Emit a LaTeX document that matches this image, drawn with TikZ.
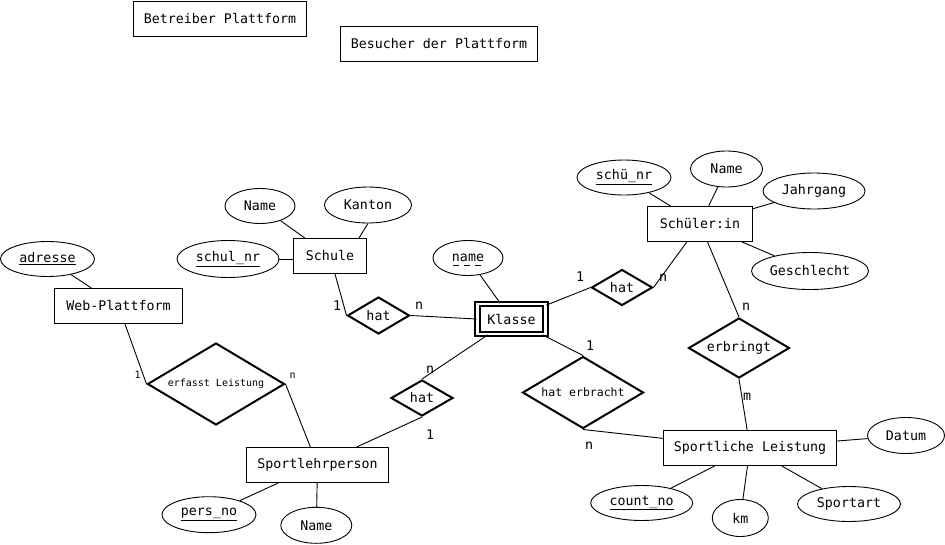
\documentclass[tikz,border=0pt]{standalone}
\usepackage{fontspec}
\setmainfont{DejaVu Sans Mono}
\usetikzlibrary{shapes.geometric}
\begin{document}
\begin{tikzpicture}[x=1pt,y=-1pt,
 every node/.style={font=\fontsize{13.3}{16}\selectfont},
 ent/.style={draw,line width=0.9pt,rectangle,inner sep=0pt,minimum height=35pt},
 attr/.style={draw,line width=0.9pt,ellipse,inner sep=0pt},
 rel/.style={draw,line width=2pt,diamond,aspect=2,inner sep=0pt},
 lbl/.style={inner sep=0pt},
 smalltxt/.style={font=\fontsize{10}{12}\selectfont},
 midtxt/.style={font=\fontsize{11.5}{14}\selectfont},
 conn/.style={line width=0.9pt}]
\path (0,0) rectangle (945,544);

% entities
\node[ent,minimum width=173pt] (betr) at (220,18.5) {Betreiber Plattform};
\node[ent,minimum width=197pt] (besu) at (439,44) {Besucher der Plattform};
\node[ent,minimum width=73pt] (schule) at (330,256) {Schule};
\node[ent,minimum width=128pt] (web) at (118.5,306) {Web-Plattform};
\node[ent,minimum width=105pt] (schueler) at (700,224) {Schüler:in};
\node[ent,minimum width=173pt] (sl) at (750,448) {Sportliche Leistung};
\node[ent,minimum width=142pt] (slp) at (317.5,465) {Sportlehrperson};
\node[draw,double,line width=1.8pt,double distance=2.6pt,rectangle,inner sep=0pt,
      minimum width=68pt,minimum height=30pt] (klasse) at (511.5,319) {Klasse};

% attributes
\node[attr,minimum width=70pt,minimum height=35pt] (aname1) at (260,206) {Name};
\node[attr,minimum width=87pt,minimum height=36pt] (kanton) at (368,205) {Kanton};
\node[attr,minimum width=102pt,minimum height=37pt] (schulnr) at (228,259) {\underline{schul\_nr}};
\node[attr,minimum width=70pt,minimum height=35pt] (namek) at (468,258) {name};
\draw[line width=0.9pt,dash pattern=on 6pt off 5pt] ([xshift=-15pt,yshift=-7.5pt]namek.center) -- ([xshift=16pt,yshift=-7.5pt]namek.center);
\node[attr,minimum width=94pt,minimum height=35pt] (schuenr) at (624,177.5) {\underline{schü\_nr}};
\node[attr,minimum width=72pt,minimum height=36pt] (aname2) at (726.5,169) {Name};
\node[attr,minimum width=102pt,minimum height=36pt] (jahrgang) at (814,191) {Jahrgang};
\node[attr,minimum width=117pt,minimum height=37pt] (geschl) at (810,271) {Geschlecht};
\node[attr,minimum width=77pt,minimum height=36pt] (datum) at (906,435.5) {Datum};
\node[attr,minimum width=102pt,minimum height=35pt] (countno) at (641.7,503) {\underline{count\_no}};
\node[attr,minimum width=56pt,minimum height=37pt] (km) at (740.3,518) {km};
\node[attr,minimum width=103pt,minimum height=35pt] (sportart) at (849,504) {Sportart};
\node[attr,minimum width=94pt,minimum height=36pt] (persno) at (209,514.7) {\underline{pers\_no}};
\node[attr,minimum width=71pt,minimum height=36pt] (aname3) at (316.3,525.3) {Name};
\node[attr,minimum width=94pt,minimum height=35pt] (adresse) at (47.5,259) {\underline{adresse}};

% relationships
\node[rel,minimum width=62pt,minimum height=37pt] (hat1) at (378.5,315.5) {hat};
\node[rel,minimum width=61pt,minimum height=36pt] (hat2) at (622,287.5) {hat};
\node[rel,minimum width=62pt,minimum height=36pt] (hat3) at (422,398) {hat};
\node[rel,minimum width=101pt,minimum height=60pt] (erbringt) at (739,348) {erbringt};
\node[rel,minimum width=121pt,minimum height=72pt,midtxt] (haterbr) at (583,392.5) {hat erbracht};
\node[rel,minimum width=137pt,minimum height=82pt,smalltxt] (erfasst) at (216,384) {erfasst Leistung};

% connectors
\draw[conn] (aname1) -- (schule);
\draw[conn] (kanton.south) -- ([xshift=-8pt]schule.north east);
\draw[conn] (schulnr.east) -- (schule.west |- schulnr.east);
\draw[conn] (schule) -- (hat1.west);
\draw[conn] (hat1.east) -- (klasse.west);
\draw[conn] (namek) -- (klasse);
\draw[conn] (klasse) -- (hat2.west);
\draw[conn] (hat2.east) -- (schueler);
\draw[conn] (schuenr) -- (schueler);
\draw[conn] (aname2) -- (schueler);
\draw[conn] (jahrgang) -- (schueler);
\draw[conn] (geschl) -- (schueler);
\draw[conn] (schueler) -- (erbringt.north);
\draw[conn] (erbringt.south) -- (sl);
\draw[conn] (klasse) -- (haterbr.north);
\draw[conn] (haterbr.south) -- (sl);
\draw[conn] (datum) -- (sl);
\draw[conn] (countno) -- (sl);
\draw[conn] (km) -- (sl);
\draw[conn] (sportart) -- (sl);
\draw[conn] (klasse) -- (hat3.north);
\draw[conn] (hat3.south) -- (slp);
\draw[conn] (persno) -- (slp);
\draw[conn] (aname3) -- (slp);
\draw[conn] (erfasst.east) -- (slp);
\draw[conn] (web) -- (erfasst.west);
\draw[conn] (adresse) -- (web);

% cardinalities
\node[lbl] (c1) at (337,306) {1};
\node[lbl] (c2) at (419,306) {n};
\node[lbl] (c3) at (580,277) {1};
\node[lbl] (c4) at (663,278) {n};
\node[lbl] (c5) at (746,307) {n};
\node[lbl] (c6) at (747,397) {m};
\node[lbl] (c7) at (590,346) {1};
\node[lbl] (c8) at (589,446) {n};
\node[lbl] (c9) at (430,370) {n};
\node[lbl] (c10) at (430,435) {1};
\node[lbl,smalltxt] (c11) at (137.7,375) {1};
\node[lbl,smalltxt] (c12) at (292.7,375.3) {n};
\end{tikzpicture}
\end{document}
